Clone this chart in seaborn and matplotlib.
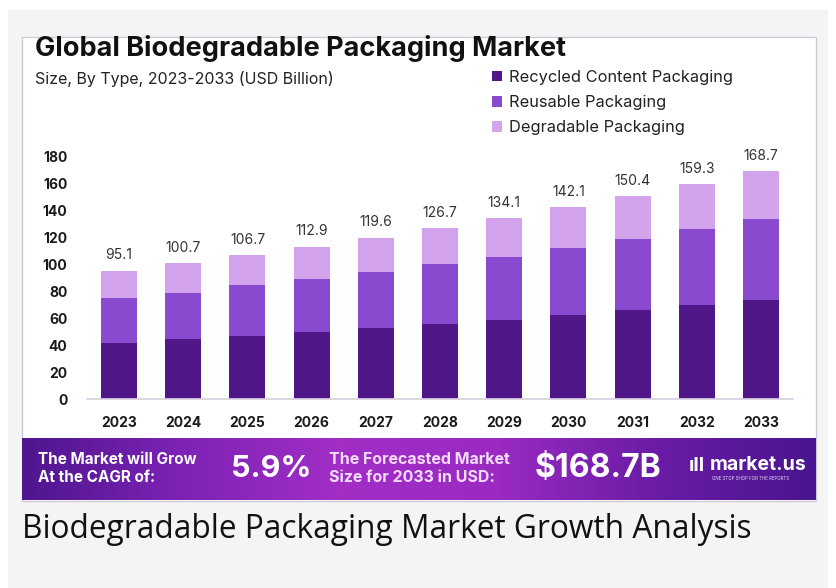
import matplotlib
matplotlib.use('Agg')
import matplotlib.pyplot as plt
import numpy as np
import pandas as pd
import seaborn as sns
from matplotlib.colors import LinearSegmentedColormap
from matplotlib.patches import Patch, Rectangle

# Datos (USD Billion)
years = ['2023', '2024', '2025', '2026', '2027', '2028',
         '2029', '2030', '2031', '2032', '2033']
recycled = [41.4, 44.4, 46.8, 49.8, 52.5, 55.7, 58.7, 62.3, 66.0, 70.0, 73.7]
reusable = [33.8, 34.5, 37.5, 38.9, 41.7, 44.4, 46.6, 49.8, 52.3, 55.7, 59.7]
degradable = [19.9, 21.8, 22.4, 24.2, 25.4, 26.6, 28.8, 30.0, 32.1, 33.6, 35.3]
totals = ['95.1', '100.7', '106.7', '112.9', '119.6', '126.7',
          '134.1', '142.1', '150.4', '159.3', '168.7']
series = ['Recycled Content Packaging', 'Reusable Packaging', 'Degradable Packaging']
colors = ['#4f1787', '#8a4ad0', '#d3a4ec']

df = pd.DataFrame({'year': years, 'recycled': recycled,
                   'reusable': reusable, 'degradable': degradable})
df['top2'] = df['recycled'] + df['reusable']
df['top3'] = df['top2'] + df['degradable']

sns.set_theme(style='white')
plt.rcParams['font.family'] = ['Inter', 'DejaVu Sans']

W, H = 836, 588
fig = plt.figure(figsize=(W / 100, H / 100), dpi=100)
fig.patch.set_facecolor('white')


def fx(px):
    return px / W


def fy(py):
    return 1 - py / H


# fondo gris y tarjeta blanca
fig.patches.append(Rectangle((fx(8), 0), fx(820), fy(10), transform=fig.transFigure,
                             facecolor='#f4f4f4', edgecolor='none', zorder=-2))
fig.patches.append(Rectangle((fx(22), fy(501)), fx(794), (501 - 37) / H,
                             transform=fig.transFigure, facecolor='white',
                             edgecolor='#cfc8d6', linewidth=1, zorder=-1))

# Gráfico principal
ax = fig.add_axes([fx(87), fy(399.3), fx(706), (399.3 - 156) / H])
ax.set_zorder(2)
for col, c in zip(['top3', 'top2', 'recycled'], colors[::-1]):
    sns.barplot(data=df, x='year', y=col, color=c, width=0.56, saturation=1,
                linewidth=0, ax=ax, zorder=2)
ax.bar_label(ax.containers[0], labels=totals, padding=6, fontsize=10,
             color='#333333', clip_on=False)

ax.set_ylim(0, 180)
ax.set_yticks(range(0, 181, 20))
ax.set_xlabel('')
ax.set_ylabel('')
ax.tick_params(axis='y', length=0, pad=14, labelsize=10, labelcolor='#1a1a1a')
ax.tick_params(axis='x', length=0, pad=12, labelsize=10, labelcolor='#1a1a1a')
for lbl in ax.get_xticklabels() + ax.get_yticklabels():
    lbl.set_fontweight('bold')
sns.despine(ax=ax, left=True)
ax.spines['bottom'].set_color('#d8d0e0')
ax.set_facecolor('none')

# Títulos
fig.text(fx(35), fy(48), 'Global Biodegradable Packaging Market', fontsize=19.5,
         fontweight='bold', color='#111111', va='center', ha='left')
fig.text(fx(35), fy(79), 'Size, By Type, 2023-2033 (USD Billion)', fontsize=11.5,
         color='#222222', va='center', ha='left')

# Leyenda
handles = [Patch(facecolor=c, edgecolor='none') for c in colors]
fig.legend(handles, series, loc='upper left', bbox_to_anchor=(fx(492), fy(70)),
           frameon=False, fontsize=11.8, handlelength=0.6, handleheight=0.6,
           handletextpad=0.45, labelspacing=0.62, borderaxespad=0, borderpad=0,
           labelcolor='#222222')

# Banda inferior
bax = fig.add_axes([fx(22), fy(500), fx(794), (500 - 438) / H])
bax.set_zorder(1)
cmap = LinearSegmentedColormap.from_list(
    'banda', ['#4e168f', '#7d22b5', '#a22ec6', '#9a2ac2', '#6a1ca6', '#4a1490'])
bax.imshow(np.linspace(0, 1, 256)[None, :], aspect='auto', cmap=cmap,
           extent=[0, 1, 0, 1])
bax.set_axis_off()


def banda(x, y, s, size, color='white', weight='bold'):
    bax.text(fx(x - 22) / fx(794), (500 - y) / 62, s, fontsize=size,
             fontweight=weight, color=color, va='center', ha='left',
             transform=bax.transAxes)


banda(38, 460, 'The Market will Grow', 11)
banda(38, 478, 'At the CAGR of:', 11)
banda(231, 469, '5.9%', 22)
banda(329, 460, 'The Forecasted Market', 11.5, '#f3dcff')
banda(329, 478, 'Size for 2033 in USD:', 11.5, '#f3dcff')
banda(535, 469, '$168.7B', 23)
banda(689, 466, 'ıll', 14)
banda(710, 465, 'market.us', 14)
banda(712, 479, 'ONE STOP SHOP FOR THE REPORTS', 3.2, '#e8d8f5', 'normal')

# Pie
fig.text(fx(22), fy(530), 'Biodegradable Packaging Market Growth Analysis',
         fontsize=22.8, color='#111111', va='center', ha='left',
         family=['Open Sans', 'DejaVu Sans'])

fig.savefig('out.png', dpi=100)
